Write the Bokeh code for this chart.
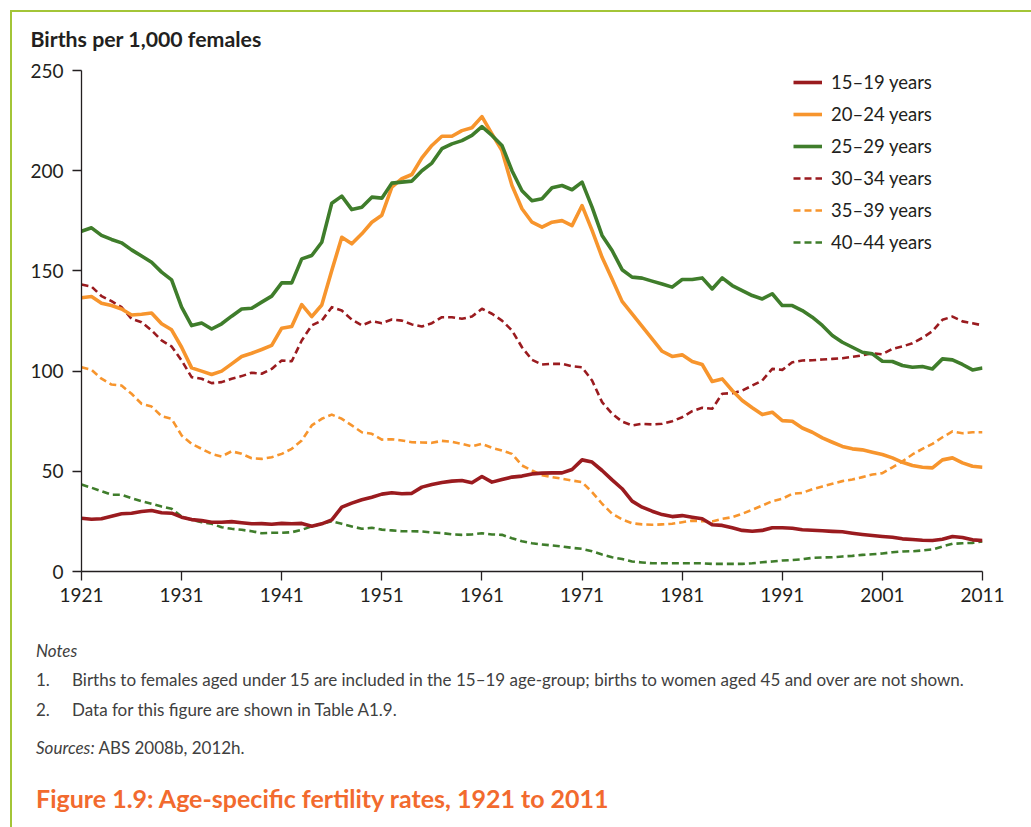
from bokeh.plotting import figure
from bokeh.models import Range1d, FixedTicker, Legend, LegendItem, Div
from bokeh.layouts import column
from bokeh.embed import file_html
from bokeh.resources import INLINE

years = list(range(1921, 2012))

age_15_19 = [26.6, 26.1, 26.3, 27.6, 28.8, 29.1, 29.9, 30.4, 29.3, 29.1,
             27.1, 25.9, 25.4, 24.6, 24.6, 24.9, 24.3, 23.8, 23.9, 23.6,
             24.0, 23.8, 24.0, 22.6, 23.8, 25.8, 32.1, 34.1, 35.8, 37.1,
             38.6, 39.3, 38.8, 39.0, 42.1, 43.4, 44.4, 45.1, 45.4, 44.3,
             47.4, 44.6, 45.9, 47.1, 47.6, 48.7, 49.1, 49.2, 49.2, 50.9,
             55.7, 54.6, 50.4, 45.7, 41.3, 35.1, 32.1, 30.1, 28.4, 27.4,
             27.9, 27.1, 26.3, 23.3, 23.0, 21.8, 20.5, 20.1, 20.5, 21.8,
             21.8, 21.6, 20.8, 20.6, 20.3, 20.0, 19.8, 19.1, 18.5, 18.0,
             17.5, 17.1, 16.3, 16.0, 15.6, 15.5, 16.1, 17.5, 17.0, 15.8, 15.5]

age_20_24 = [136.6, 137.2, 133.9, 132.7, 131.0, 128.0, 128.4, 129.0, 123.6, 120.6,
             111.9, 101.6, 100.0, 98.3, 100.0, 103.6, 107.3, 108.9, 110.8, 112.8,
             121.4, 122.3, 133.2, 127.2, 133.0, 150.2, 166.8, 163.5, 168.5, 174.3,
             177.8, 191.8, 196.0, 198.1, 206.4, 212.6, 217.2, 217.2, 220.0, 221.4,
             227.0, 218.4, 210.0, 192.6, 181.0, 174.3, 171.8, 174.3, 175.1, 172.6,
             182.6, 170.2, 156.8, 146.0, 134.8, 128.6, 122.3, 116.1, 109.9, 107.3,
             108.1, 104.8, 103.3, 94.8, 96.1, 90.3, 85.3, 81.7, 78.3, 79.5,
             75.3, 75.0, 71.6, 69.5, 66.7, 64.5, 62.4, 61.2, 60.7, 59.5,
             58.4, 56.7, 54.5, 52.9, 52.0, 51.7, 55.7, 56.7, 54.2, 52.5, 52.0]

age_25_29 = [169.8, 171.5, 167.7, 165.7, 164.0, 160.5, 157.4, 154.3, 149.4, 145.5,
             131.9, 122.7, 124.0, 121.0, 123.6, 127.4, 131.0, 131.4, 134.4, 137.4,
             144.0, 144.0, 156.0, 157.7, 164.3, 183.8, 187.3, 180.6, 181.8, 186.8,
             186.3, 193.8, 194.3, 194.8, 200.0, 203.8, 211.0, 213.4, 215.0, 217.6,
             222.0, 217.6, 212.6, 200.0, 190.0, 185.0, 186.0, 191.5, 192.6, 190.5,
             194.3, 181.8, 167.7, 160.2, 150.6, 146.9, 146.4, 144.9, 143.5, 141.9,
             145.7, 145.7, 146.5, 141.0, 146.5, 142.7, 140.2, 137.7, 136.0, 138.6,
             132.7, 132.7, 130.2, 126.9, 122.8, 117.8, 114.4, 111.9, 109.4, 108.6,
             104.9, 104.8, 102.8, 101.9, 102.3, 101.1, 106.1, 105.6, 103.3, 100.6, 101.6]

age_30_34 = [143.2, 142.2, 137.4, 134.9, 131.9, 126.1, 124.4, 120.3, 115.3, 112.3,
             105.3, 97.0, 96.2, 94.0, 94.5, 96.2, 97.5, 99.2, 98.7, 101.1,
             105.3, 104.9, 115.3, 122.8, 125.2, 131.9, 130.2, 125.7, 122.8, 124.9,
             123.9, 125.7, 125.2, 123.3, 122.3, 123.9, 126.9, 126.9, 126.1, 127.2,
             131.1, 128.6, 125.2, 120.3, 111.9, 105.6, 103.3, 103.6, 103.6, 102.4,
             101.9, 95.3, 84.5, 78.7, 74.8, 72.9, 73.7, 73.4, 73.7, 75.0,
             77.0, 80.0, 81.7, 81.2, 88.7, 89.0, 90.3, 92.8, 95.3, 101.1,
             100.6, 104.4, 105.3, 105.4, 105.8, 106.1, 106.4, 107.1, 107.9, 108.9,
             108.4, 111.1, 112.3, 113.9, 116.6, 119.9, 125.6, 127.2, 124.8, 123.9, 122.8]

age_35_39 = [101.9, 100.6, 96.2, 93.3, 92.8, 88.7, 83.7, 82.3, 77.5, 76.2,
             67.9, 63.7, 61.2, 58.7, 57.4, 60.0, 58.7, 56.5, 56.2, 57.0,
             58.7, 61.2, 65.4, 72.9, 76.2, 78.3, 76.2, 72.9, 69.5, 68.7,
             65.8, 66.0, 65.4, 64.5, 64.4, 64.2, 65.2, 64.7, 63.7, 62.4,
             63.7, 61.7, 60.4, 58.7, 52.9, 50.4, 48.1, 47.1, 46.3, 45.4,
             44.6, 39.6, 33.8, 28.8, 26.0, 24.1, 23.5, 23.3, 23.5, 23.8,
             24.6, 25.4, 25.1, 25.0, 26.3, 27.1, 28.8, 30.8, 32.9, 35.1,
             36.3, 38.8, 39.2, 41.1, 42.4, 43.8, 45.1, 45.9, 47.1, 48.4,
             49.1, 52.0, 55.0, 58.4, 61.2, 63.7, 67.0, 69.9, 69.0, 69.5, 69.5]

age_40_44 = [43.4, 41.8, 40.1, 38.3, 38.3, 36.6, 35.1, 33.8, 32.4, 31.3,
             27.4, 25.8, 24.6, 23.8, 22.1, 21.3, 20.8, 20.1, 19.1, 19.3,
             19.3, 19.6, 20.8, 22.5, 23.8, 25.1, 23.8, 22.5, 21.3, 21.8,
             20.9, 20.5, 20.1, 20.1, 20.0, 19.5, 19.2, 18.5, 18.3, 18.5,
             19.1, 18.5, 18.3, 16.6, 15.1, 14.1, 13.5, 13.0, 12.5, 11.8,
             11.3, 10.1, 8.5, 7.1, 6.2, 5.0, 4.5, 4.1, 4.1, 4.1,
             4.1, 4.1, 4.1, 3.8, 3.8, 3.8, 3.8, 4.1, 4.6, 5.0,
             5.5, 5.7, 6.1, 6.8, 7.0, 7.1, 7.5, 7.8, 8.3, 8.6,
             9.0, 9.6, 10.0, 10.1, 10.5, 11.0, 12.5, 13.8, 14.1, 14.3, 15.0]

series_labels = ["15\u201319 years", "20\u201324 years", "25\u201329 years",
                 "30\u201334 years", "35\u201339 years", "40\u201344 years"]
x_ticks = list(range(1921, 2012, 10))
y_ticks = [0, 50, 100, 150, 200, 250]

RED = "#9a1b1f"
ORANGE = "#f7952d"
GREEN = "#3f7d2b"
TEXT = "#231f20"
NOTE = "#404040"
TITLE = "#f26a2e"
BORDER = "#a3c537"
FONT = "Lato"

W, H = 1031, 620
FL, FT, FW, FH = 81, 70, 901, 501   # frame box in page pixels

p = figure(width=W, height=H, output_backend="svg", toolbar_location=None,
           x_range=Range1d(1921, 2011), y_range=Range1d(0, 250),
           min_border_left=FL, min_border_right=W - FL - FW,
           min_border_top=FT, min_border_bottom=H - FT - FH)
p.outline_line_color = None
p.grid.visible = False
p.background_fill_color = "white"
p.border_fill_color = "white"

p.title.text = "Births per 1,000 females"
p.title.align = "left"
p.title.offset = 30 - FL
p.title.standoff = 38
p.title.vertical_align = "bottom"
p.title.text_font = FONT
p.title.text_font_size = "21.3px"
p.title.text_font_style = "bold"
p.title.text_color = TEXT

for ax in (p.xaxis[0], p.yaxis[0]):
    ax.axis_line_color = TEXT
    ax.axis_line_width = 1.3
    ax.major_tick_line_color = TEXT
    ax.major_tick_line_width = 1.3
    ax.major_tick_out = 9
    ax.major_tick_in = 0
    ax.minor_tick_line_color = None
    ax.major_label_text_font = FONT
    ax.major_label_text_font_size = "19px"
    ax.major_label_text_color = TEXT

p.xaxis[0].ticker = FixedTicker(ticks=x_ticks)
p.yaxis[0].ticker = FixedTicker(ticks=y_ticks)
p.xaxis[0].major_label_standoff = 7
p.yaxis[0].major_label_standoff = 9

src = [(age_30_34, RED, "7 4"), (age_35_39, ORANGE, "7 4"), (age_40_44, GREEN, "7 4"),
       (age_15_19, RED, None), (age_20_24, ORANGE, None), (age_25_29, GREEN, None)]
renderers = []
for vals, col, dash in src:
    if dash:
        r = p.line(years, vals, line_color=col, line_width=2.6, line_dash=dash,
                   line_join="round")
    else:
        r = p.line(years, vals, line_color=col, line_width=3.6, line_join="round")
    renderers.append(r)

order = [3, 4, 5, 0, 1, 2]
items = [LegendItem(label=series_labels[i], renderers=[renderers[order[i]]]) for i in range(6)]
legend = Legend(items=items, location=(712, 318), glyph_width=29, glyph_height=20,
                label_height=20, spacing=10, label_standoff=9, padding=0, margin=0,
                border_line_color=None, background_fill_alpha=0,
                label_text_font=FONT, label_text_font_size="18.5px",
                label_text_color=TEXT)
p.add_layout(legend)

# text block below the chart (baselines in page pixels, converted to tops)
DIV_TOP = H
def top_for(baseline, fs):
    return baseline - DIV_TOP - 0.887 * fs

def line_html(left, baseline, fs, html, color=NOTE, extra=""):
    return ('<div style="position:absolute;left:%.1fpx;top:%.1fpx;font-size:%.1fpx;'
            'line-height:%.1fpx;white-space:nowrap;color:%s;margin:0;padding:0;%s">%s</div>'
            % (left, top_for(baseline, fs), fs, fs, color, extra, html))

FS = 17
parts = [
    line_html(31, 652, FS, "Notes", extra="font-style:italic;"),
    line_html(31, 681.5, FS, "1."),
    line_html(67, 681.5, FS, "Births to females aged under 15 are included in the 15\u201319 "
              "age-group; births to women aged 45 and over are not shown."),
    line_html(31, 711.5, FS, "2."),
    line_html(67, 711.5, FS, "Data for this figure are shown in Table A1.9."),
    line_html(31, 749.5, FS, "<i>Sources:</i> ABS 2008b, 2012h."),
    line_html(31, 803, 25, "Figure 1.9: Age-specific fertility rates, 1921 to 2011",
              color=TITLE, extra="font-weight:bold;"),
    ('<div style="position:absolute;left:5px;top:%dpx;width:1030px;height:830px;'
     'border-top:2px solid %s;border-left:2px solid %s;pointer-events:none;"></div>'
     % (5 - DIV_TOP, BORDER, BORDER)),
]
notes = Div(width=W, height=827 - H,
            text='<div style="position:relative;width:%dpx;height:%dpx;font-family:Lato,sans-serif;">%s</div>'
                 % (W, 827 - H, "".join(parts)),
            styles={"overflow": "visible"})

layout = column(p, notes, spacing=0)
open("out.html", "w").write(file_html(layout, INLINE))
